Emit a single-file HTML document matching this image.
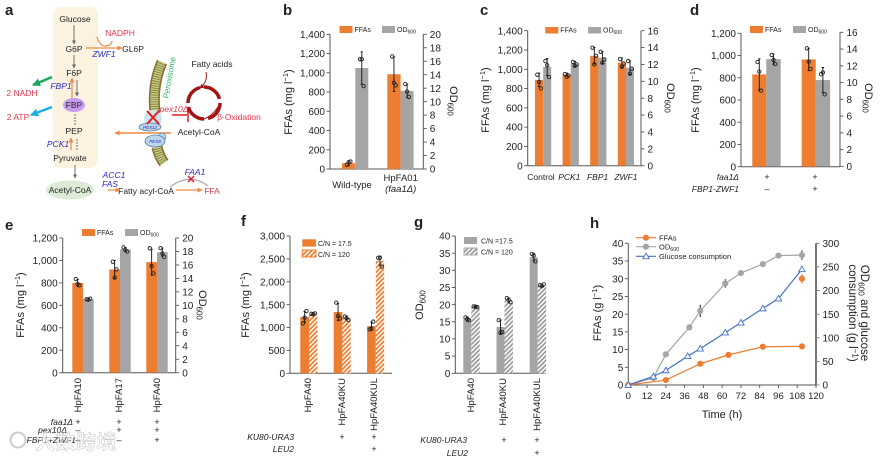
<!DOCTYPE html>
<html><head><meta charset="utf-8"><title>Figure</title>
<style>
html,body{margin:0;padding:0;background:#fff}
svg{display:block;font-family:"Liberation Sans","Noto Sans CJK SC",sans-serif;fill:#222;filter:blur(0.3px)}
text{fill:#222}
.d{font-size:8.5px;text-anchor:middle}
.r{fill:#e0384a}
.b{fill:#2a2ac0;font-style:italic}
</style></head>
<body>
<svg id="fig" xmlns="http://www.w3.org/2000/svg" width="884" height="458" viewBox="0 0 884 458">
<defs>
<pattern id="hatchO" patternUnits="userSpaceOnUse" width="3.2" height="3.2" patternTransform="rotate(45)"><rect width="3.2" height="3.2" fill="#fff"/><rect width="1.7" height="3.2" fill="#ED7D31"/></pattern>
<pattern id="hatchG" patternUnits="userSpaceOnUse" width="3.2" height="3.2" patternTransform="rotate(45)"><rect width="3.2" height="3.2" fill="#fff"/><rect width="1.7" height="3.2" fill="#999"/></pattern>
<marker id="mGray" markerWidth="5" markerHeight="5" refX="3.5" refY="2" orient="auto" markerUnits="userSpaceOnUse"><path d="M0,0L4,2L0,4z" fill="#666"/></marker>
<marker id="mOr" markerWidth="6" markerHeight="6" refX="4.5" refY="2.5" orient="auto" markerUnits="userSpaceOnUse"><path d="M0,0L5,2.5L0,5z" fill="#ED8A45"/></marker>
<marker id="mGreen" markerWidth="9" markerHeight="9" refX="7" refY="4" orient="auto" markerUnits="userSpaceOnUse"><path d="M0,0L8,4L0,8z" fill="#17A85A"/></marker>
<marker id="mBlue" markerWidth="9" markerHeight="9" refX="7" refY="4" orient="auto" markerUnits="userSpaceOnUse"><path d="M0,0L8,4L0,8z" fill="#1AAFE0"/></marker>
<marker id="mRed" markerWidth="6" markerHeight="6" refX="4" refY="2.5" orient="auto" markerUnits="userSpaceOnUse"><path d="M0,0L5,2.5L0,5z" fill="#A31515"/></marker>
</defs>

<g id="panel-a">
<rect x="53" y="7" width="45" height="161" rx="8" fill="#FBF3E0"/>
<text x="5" y="15" font-size="15" font-weight="bold" fill="#111">a</text>
<ellipse cx="74" cy="105" rx="11" ry="7" fill="#C79CEF"/>
<ellipse cx="70" cy="190" rx="24" ry="9.5" fill="#DCEBD5"/>
<g class="d">
<text x="75" y="22">Glucose</text><text x="74" y="52">G6P</text><text x="74" y="76">F6P</text><text x="74" y="108">FBP</text><text x="74" y="134">PEP</text><text x="70" y="161">Pyruvate</text><text x="70" y="193">Acetyl-CoA</text><text x="133" y="52">GL6P</text><text x="146" y="194">Fatty acyl-CoA</text><text x="199" y="135">Acetyl-CoA</text><text x="212" y="67">Fatty acids</text>
</g>
<g class="d">
<text class="r" x="120" y="36">NADPH</text><text class="r" x="22" y="96">2 NADH</text><text class="r" x="18" y="120">2 ATP</text><text class="r" x="212" y="194">FFA</text><text class="r" x="239" y="120">β-Oxidation</text><text class="r" style="font-style:italic" x="174" y="112">pex10Δ</text>
</g>
<g class="d">
<text class="b" x="104" y="57">ZWF1</text><text class="b" x="61" y="89">FBP1</text><text class="b" x="58" y="147">PCK1</text><text class="b" x="114" y="178">ACC1</text><text class="b" x="110" y="187">FAS</text><text class="b" x="195" y="175">FAA1</text>
</g>
<g fill="none">
<g stroke="#666" stroke-width="0.9">
<path d="M74,25V44" marker-end="url(#mGray)"/><path d="M74,55V68" marker-end="url(#mGray)"/><path d="M77,80V96" marker-end="url(#mGray)"/>
<path d="M75,114V126" stroke-dasharray="2 1"/><path d="M77,139V151" stroke-dasharray="2 1"/><path d="M75,165V178" marker-end="url(#mGray)"/>
</g>
<g stroke="#ED8A45" stroke-width="1.2">
<path d="M86,48H122" marker-end="url(#mOr)"/><path d="M97,37Q100,47 106,46T112,41"/><path d="M72,98V78" marker-end="url(#mOr)"/><path d="M71,150V138" marker-end="url(#mOr)"/>
<path d="M108,190H120" marker-end="url(#mOr)"/><path d="M176,190H202" marker-end="url(#mOr)"/><path d="M171,133H115" stroke-width="1.5" marker-end="url(#mOr)"/>
</g>
<path d="M52,77L33,85" stroke="#17A85A" stroke-width="2.5" marker-end="url(#mGreen)"/>
<path d="M52,107L31,115" stroke="#1AAFE0" stroke-width="2.5" marker-end="url(#mBlue)"/>
<path d="M208,186Q190,172 170,187" stroke="#aaa" stroke-width="1.2"/>
<path d="M172,115H187M188,108V122" stroke="#E02020" stroke-width="1.5"/>
<path d="M188,176L194,182M194,176L188,182" stroke="#E02020" stroke-width="1.5"/>
</g>
<g fill="none">
<path d="M162,62Q152,85 155,113" stroke="#8B6B2E" stroke-width="11"/>
<path d="M162,62Q152,85 155,113" stroke="#BFD38A" stroke-width="8" stroke-dasharray="1.5 0.8"/>
<path d="M157,147Q159,156 164,163" stroke="#8B6B2E" stroke-width="11"/>
<path d="M157,147Q159,156 164,163" stroke="#BFD38A" stroke-width="8" stroke-dasharray="1.5 0.8"/>
</g>
<text x="172" y="78" font-size="8" text-anchor="middle" transform="rotate(-80 172 78)" style="fill:#2FB36A">Peroxisome</text>
<circle cx="153" cy="119" r="9" fill="#CFE3EE"/>
<ellipse cx="150" cy="127" rx="11" ry="4" fill="#BCD5E8" stroke="#2F5E8E" stroke-width="0.6"/>
<text x="150" y="129" font-size="4.5" text-anchor="middle" class="b">PEX12</text>
<circle cx="162" cy="137" r="4" fill="#BCD5E8" stroke="#2F5E8E" stroke-width="0.5"/>
<ellipse cx="155" cy="141" rx="10" ry="6" fill="#BCD5E8" stroke="#2F5E8E" stroke-width="0.6"/>
<text x="155" y="143" font-size="4.5" text-anchor="middle" class="b">PEX8</text>
<path d="M147,111L159,124M159,111L147,124" stroke="#E02020" stroke-width="2" fill="none"/>
<g fill="none" stroke="#A31515">
<circle cx="204" cy="103" r="16" stroke-width="3.5" stroke-dasharray="21 4.1"/>
<path d="M206,72Q208,82 200,88" stroke-width="1" marker-end="url(#mRed)"/>
<path d="M204,119Q212,116 218,107" stroke-width="1"/>
</g>
</g>

<g id="panels"></g>
<text x="35" y="449" font-size="20" font-weight="bold" letter-spacing="0.5" stroke="#999" stroke-width="0.5" style="fill:#fff" opacity="0.6">大数跨境</text>
<circle cx="18" cy="440" r="7.5" fill="none" stroke="#ccc" stroke-width="2"/>
</svg>

<script>
// Panel b
const bCategories = ['Wild-type', 'HpFA01'];
const bFFA = [60, 985];
const bOD = [15, 11.6];
const bFFAErr = [25, 180];
const bODErr = [2.4, 1.0];
const bFFAPts = [[45, 70, 78], [1170, 895, 870]];
const bODPts = [[16.3, 16.3, 12.3], [12.6, 11.5, 10.7]];
// Panel c
const cCategories = ['Control', 'PCK1', 'FBP1', 'ZWF1'];
const cFFA = [890, 945, 1140, 1068];
const cOD = [11.7, 12.05, 12.8, 11.6];
const cFFAErr = [70, 15, 85, 50];
const cODErr = [1.0, 0.3, 0.7, 0.8];
const cFFAPts = [[944, 868, 802], [951, 923, 935], [1224, 1051, 1140], [1106, 1027, 1060]];
const cODPts = [[12.4, 11.9, 10.5], [12.3, 11.85, 12], [13.5, 12.2, 12.6], [12.4, 10.9, 11.5]];
// Panel d
const dFFA = [830, 965];
const dOD = [12.8, 10.3];
const dFFAErr = [140, 100];
const dODErr = [0.6, 1.5];
const dFFAPts = [[942, 855, 684], [1065, 945, 879]];
const dODPts = [[13.3, 12.7, 12.2], [11.0, 11.2, 8.6]];
// Panel e
const eCategories = ['HpFA10', 'HpFA17', 'HpFA40'];
const eFFA = [800, 920, 985];
const eOD = [10.9, 18.3, 17.9];
const eFFAErr = [30, 80, 115];
const eODErr = [0.15, 0.3, 0.6];
const eFFAPts = [[835, 790, 778], [989, 847, 920], [1108, 950, 885]];
const eODPts = [[10.9, 10.85, 11], [18.6, 18.2, 18], [18.5, 17.7, 17.2]];
// Panel f
const fCategories = ['HpFA40', 'HpFA40KU', 'HpFA40KUL'];
const fLow = [1230, 1340, 1030];
const fHigh = [1290, 1210, 2460];
const fLowErr = [120, 190, 90];
const fHighErr = [15, 40, 100];
const fLowPts = [[1090, 1215, 1360], [1545, 1250, 1200], [960, 980, 1130]];
const fHighPts = [[1300, 1290, 1310], [1240, 1200, 1165], [2525, 2525, 2330]];
// Panel g
const gCategories = ['HpFA40', 'HpFA40KU', 'HpFA40KUL'];
const gLow = [15.8, 13.5, 33.8];
const gHigh = [19.4, 21.3, 25.6];
const gLowErr = [0.6, 2, 1.1];
const gHighErr = [0.1, 0.6, 0.3];
const gLowPts = [[16.3, 15.8, 15.5], [15.5, 11.8, 12], [34.8, 34.3, 32.6]];
const gHighPts = [[19.5, 19.4, 19.3], [21.9, 21.4, 20.7], [25.7, 25.4, 25.9]];
// Panel h
const hFFATime = [0, 24, 46, 64, 86, 111];
const hFFA = [0, 1.4, 6, 8.5, 10.8, 10.9];
const hODTime = [0, 16, 24, 39, 46, 62, 72, 86, 96, 111];
const hOD = [0, 15, 65, 122, 157, 215, 237, 256, 274, 275];
const hODErr = [0, 1, 2, 4, 13, 9, 3, 2, 3, 10];
const hGluTime = [0, 16, 24, 38, 46, 62, 72, 86, 96, 111];
const hGlu = [0, 18, 31, 61, 77, 111, 132, 162, 183, 245];
const hExtraTime = [111];
const hExtra = [30];
// Tick labels
const ticks1400 = [0, 200, 400, 600, 800, 1000, 1200, 1400];
const ticks1200 = [0, 200, 400, 600, 800, 1000, 1200];
const ticks3000 = [0, 500, 1000, 1500, 2000, 2500, 3000];
const ticks40 = [0, 5, 10, 15, 20, 25, 30, 35, 40];
const ticksOD20 = [0, 2, 4, 6, 8, 10, 12, 14, 16, 18, 20];
const ticksOD16 = [0, 2, 4, 6, 8, 10, 12, 14, 16];
const ticksTime = [0, 12, 24, 36, 48, 60, 72, 84, 96, 108, 120];
const ticksRight300 = [0, 50, 100, 150, 200, 250, 300];

const NS = 'http://www.w3.org/2000/svg';
const root = document.getElementById('panels');
const ORANGE = '#ED7D31', GRAY = '#A5A5A5', AX = '#555';

function mk(parent, tag, attrs, txt) {
  const el = document.createElementNS(NS, tag);
  for (const k in attrs) el.setAttribute(k, attrs[k]);
  if (txt !== undefined) el.textContent = txt;
  parent.appendChild(el);
  return el;
}
function fmt(v) { return v >= 1000 ? Math.floor(v / 1000) + ',' + String(v % 1000).padStart(3, '0') : String(v); }
function linear(d1, r0, r1) { return v => r0 + (r1 - r0) * v / d1; }

function group(name, parent) {
  const g = mk(parent || root, 'g', {});
  
  
  return g;
}
function label(parent, name, x, y, s, o) {
  o = o || {};
  const t = mk(parent, 'text', { x: x, y: y, 'font-size': o.size || 10, 'text-anchor': o.anchor || 'middle' }, s);
  
  
  if (o.italic) t.setAttribute('font-style', 'italic');
  if (o.bold) t.setAttribute('font-weight', 'bold');
  if (o.rot !== undefined) t.setAttribute('transform', 'rotate(' + o.rot + ' ' + x + ' ' + y + ')');
  return t;
}
function od600(parent, name, x, y, o) {
  const t = label(parent, name, x, y, 'OD', o);
  const s = mk(t, 'tspan', { 'font-size': (o.size || 10) * 0.72, dy: (o.size || 10) * 0.22 }, '600');
  
  
  return t;
}
function ffaTitle(parent, name, x, y, unit) {
  const t = label(parent, name, x, y, 'FFAs (' + unit + ' l', { size: 11, rot: -90 });
  const s = mk(t, 'tspan', { 'font-size': 7.5, dy: -4 }, '−1');
  
  
  const c = mk(t, 'tspan', { dy: 4 }, ')');
  
  
}
function vAxis(parent, name, x, y0, yT, max, ticks, side, w, col) {
  const sc = linear(max, y0, yT);
  const g = group(name, parent);
  const ln = mk(g, 'line', { x1: x, x2: x, y1: y0, y2: yT, stroke: col || AX, 'stroke-width': w || 1 });
  
  
  ticks.forEach(v => {
    const y = sc(v);
    const tk = mk(g, 'line', { x1: x, x2: x + side * 3.5, y1: y, y2: y, stroke: col || AX, 'stroke-width': 0.9 });
    
    
    label(g, name + '-tick-label', x + (side < 0 ? -5 : 6.5), y + 3.6, fmt(v), { anchor: side < 0 ? 'end' : 'start' });
  });
  return sc;
}
function drawBars(g, series, sc, xOf, bw, fill, errs, pts, nm) {
  series.forEach((v, i) => {
    const x = xOf(i);
    const r = mk(g, 'rect', { x: x, y: sc(v), width: bw, height: sc(0) - sc(v), fill: fill });
    
    
    const cx = x + bw / 2;
    const e = mk(g, 'path', { d: 'M' + (cx - 1.2) + ',' + sc(v + errs[i]) + 'h2.4M' + cx + ',' + sc(v + errs[i]) + 'V' + sc(v - errs[i]) + 'M' + (cx - 1.2) + ',' + sc(v - errs[i]) + 'h2.4', stroke: '#111', 'stroke-width': 0.9, fill: 'none' });
    
    
    pts[i].forEach((p, j) => {
      const c = mk(g, 'circle', { cx: cx + (j - 1) * 1.8, cy: sc(p), r: 1.7, fill: 'none', stroke: '#222', 'stroke-width': 0.9 });
      
      
    });
  });
}
function baseline(g, name, x0, x1, y) {
  const l = mk(g, 'line', { x1: x0, x2: x1, y1: y, y2: y, stroke: AX, 'stroke-width': 1 });
  
  
}
function legendSwatch(g, name, x, y, w, h, fill, stroke) {
  const r = mk(g, 'rect', { x: x, y: y, width: w, height: h, fill: fill });
  if (stroke) r.setAttribute('stroke', stroke);
  
  
}
function stdLegend(g, ox1, ox2, y, h) {
  const lg = group('legend', g);
  legendSwatch(lg, 'legend-swatch-ffas', ox1, y, 13, h, ORANGE);
  label(lg, 'legend-label-ffas', ox1 + 15, y + h - 0.8, 'FFAs', { size: 7, anchor: 'start' });
  legendSwatch(lg, 'legend-swatch-od600', ox2, y, 13, h, GRAY);
  od600(lg, 'legend-label-od600', ox2 + 15, y + h - 0.8, { size: 7, anchor: 'start' });
}
function rowLabels(g, name, rows) {
  rows.forEach(r => {
    label(g, name + '-row-label', r.x, r.y, r.text, { size: 8.5, anchor: 'end', italic: true });
    r.marks.forEach(m => label(g, name + '-row-mark', m[0], r.y, m[1], { size: 9 }));
  });
}
function barX(first, pitch, offset) { return i => first + pitch * i + offset; }

// ---- b
(function () {
  const g = group('panel-b');
  label(g, 'panel-label-b', 283, 15, 'b', { size: 15, bold: true, anchor: 'start' });
  stdLegend(g, 339.5, 382, 26, 7);
  const y0 = 169, yT = 34.3;
  const sL = vAxis(g, 'left-axis', 330, y0, yT, 1400, ticks1400, -1);
  const sR = vAxis(g, 'right-axis', 423.3, y0, yT, 20, ticksOD20, 1);
  baseline(g, 'x-axis', 330, 423.3, y0);
  drawBars(g, bFFA, sL, barX(342, 45.3, 0), 13.3, ORANGE, bFFAErr, bFFAPts, 'ffas');
  drawBars(g, bOD, sR, barX(342, 45.3, 13.3), 13, GRAY, bODErr, bODPts, 'od600');
  ffaTitle(g, 'y-axis-title', 292, 102, 'mg');
  od600(g, 'right-axis-title', 450, 101, { size: 11, rot: 90 });
  label(g, 'category-label', 352, 188, bCategories[0], { size: 9.5 });
  label(g, 'category-label', 400.7, 181, bCategories[1], { size: 9.5 });
  label(g, 'category-sublabel', 400.7, 192, '(faa1Δ)', { size: 9.5, italic: true });
})();
// ---- c
(function () {
  const g = group('panel-c');
  label(g, 'panel-label-c', 480, 15, 'c', { size: 15, bold: true, anchor: 'start' });
  stdLegend(g, 545.3, 588, 27, 6.5);
  const y0 = 165.7, yT = 30.7;
  const sL = vAxis(g, 'left-axis', 527.7, y0, yT, 1400, ticks1400, -1);
  const sR = vAxis(g, 'right-axis', 641, y0, yT, 16, ticksOD16, 1);
  baseline(g, 'x-axis', 527.7, 641, y0);
  drawBars(g, cFFA, sL, barX(535, 27.6, 0), 8.2, ORANGE, cFFAErr, cFFAPts, 'ffas');
  drawBars(g, cOD, sR, barX(535, 27.6, 8.2), 8, GRAY, cODErr, cODPts, 'od600');
  ffaTitle(g, 'y-axis-title', 489, 100, 'mg');
  od600(g, 'right-axis-title', 667, 98, { size: 11, rot: 90 });
  cCategories.forEach((c, i) => label(g, 'category-label', 541 + 28.3 * i, 180, c, { size: 8.5, italic: i > 0 }));
})();
// ---- d
(function () {
  const g = group('panel-d');
  label(g, 'panel-label-d', 690, 15, 'd', { size: 15, bold: true, anchor: 'start' });
  stdLegend(g, 750, 793, 26, 7);
  const y0 = 166.7, yT = 33.3;
  const sL = vAxis(g, 'left-axis', 741, y0, yT, 1200, ticks1200, -1);
  const sR = vAxis(g, 'right-axis', 840, y0 - 0.3, yT - 1, 16, ticksOD16, 1);
  baseline(g, 'x-axis', 741, 840, y0);
  drawBars(g, dFFA, sL, barX(752.3, 49.4, 0), 14, ORANGE, dFFAErr, dFFAPts, 'ffas');
  drawBars(g, dOD, sR, barX(752.3, 49.4, 14), 14.4, GRAY, dODErr, dODPts, 'od600');
  ffaTitle(g, 'y-axis-title', 699, 100, 'mg');
  od600(g, 'right-axis-title', 865, 98, { size: 11, rot: 90 });
  rowLabels(g, 'genotype', [
    { x: 739, y: 180, text: 'faa1Δ', marks: [[767, '+'], [815, '+']] },
    { x: 739, y: 192, text: 'FBP1-ZWF1', marks: [[767, '–'], [815, '+']] }
  ]);
})();
// ---- e
(function () {
  const g = group('panel-e');
  label(g, 'panel-label-e', 5, 230, 'e', { size: 15, bold: true, anchor: 'start' });
  stdLegend(g, 82, 125, 229, 7);
  const y0 = 372.7, yT = 238;
  const sL = vAxis(g, 'left-axis', 62.7, y0, yT, 1200, ticks1200, -1);
  const sR = vAxis(g, 'right-axis', 175.7, y0, yT, 20, ticksOD20, 1);
  baseline(g, 'x-axis', 62.7, 175.7, y0);
  drawBars(g, eFFA, sL, barX(72.3, 37, 0), 10.7, ORANGE, eFFAErr, eFFAPts, 'ffas');
  drawBars(g, eOD, sR, barX(72.3, 37, 10.7), 10.7, GRAY, eODErr, eODPts, 'od600');
  ffaTitle(g, 'y-axis-title', 24, 305, 'mg');
  od600(g, 'right-axis-title', 199, 305, { size: 11, rot: 90 });
  [81, 122, 160].forEach((x, i) => label(g, 'category-label', x, 378, eCategories[i], { size: 9.5, anchor: 'end', rot: -90 }));
  rowLabels(g, 'genotype', [
    { x: 73, y: 425, text: 'faa1Δ', marks: [[78, '+'], [119, '+'], [157, '+']] },
    { x: 67, y: 433, text: 'pex10Δ', marks: [[78, '–'], [119, '+'], [157, '+']] },
    { x: 76, y: 443, text: 'FBP1+ZWF1', marks: [[78, '–'], [119, '–'], [157, '+']] }
  ]);
})();
// ---- f
(function () {
  const g = group('panel-f');
  label(g, 'panel-label-f', 241, 226, 'f', { size: 15, bold: true, anchor: 'start' });
  const lg = group('legend', g);
  legendSwatch(lg, 'legend-swatch-low-cn', 302.3, 239.3, 13.7, 7.3, ORANGE);
  label(lg, 'legend-label-low-cn', 318, 246, 'C/N = 17.5', { size: 7, anchor: 'start' });
  legendSwatch(lg, 'legend-swatch-high-cn', 302.3, 250, 13.7, 7, 'url(#hatchO)', ORANGE);
  label(lg, 'legend-label-high-cn', 318, 257, 'C/N = 120', { size: 7, anchor: 'start' });
  const y0 = 373.3, yT = 236;
  const sL = vAxis(g, 'left-axis', 290, y0, yT, 3000, ticks3000, -1);
  baseline(g, 'x-axis', 290, 392, y0);
  drawBars(g, fLow, sL, barX(300.3, 33.4, 0), 8.7, ORANGE, fLowErr, fLowPts, 'low-cn');
  drawBars(g, fHigh, sL, barX(300.3, 33.4, 8.7), 8.4, 'url(#hatchO)', fHighErr, fHighPts, 'high-cn');
  ffaTitle(g, 'y-axis-title', 249, 305, 'mg');
  [311, 345, 377].forEach((x, i) => label(g, 'category-label', x, 378, fCategories[i], { size: 9.5, anchor: 'end', rot: -90 }));
  rowLabels(g, 'genotype', [
    { x: 294, y: 440, text: 'KU80-URA3', marks: [[342, '+'], [374, '+']] },
    { x: 294, y: 452, text: 'LEU2', marks: [[374, '+']] }
  ]);
})();
// ---- g
(function () {
  const g = group('panel-g');
  label(g, 'panel-label-g', 414, 227, 'g', { size: 15, bold: true, anchor: 'start' });
  const lg = group('legend', g);
  legendSwatch(lg, 'legend-swatch-low-cn', 464, 237, 13, 7, GRAY);
  label(lg, 'legend-label-low-cn', 481, 243.5, 'C/N =17.5', { size: 7, anchor: 'start' });
  legendSwatch(lg, 'legend-swatch-high-cn', 464, 248, 13, 7, 'url(#hatchG)', '#aaa');
  label(lg, 'legend-label-high-cn', 481, 254.5, 'C/N = 120', { size: 7, anchor: 'start' });
  const y0 = 373.3, yT = 236;
  const sL = vAxis(g, 'left-axis', 455.3, y0, yT, 40, ticks40, -1);
  baseline(g, 'x-axis', 455.3, 546, y0);
  drawBars(g, gLow, sL, barX(463.3, 33.2, 0), 8, GRAY, gLowErr, gLowPts, 'low-cn');
  drawBars(g, gHigh, sL, barX(463.3, 33.2, 8), 8.4, 'url(#hatchG)', gHighErr, gHighPts, 'high-cn');
  od600(g, 'y-axis-title', 423, 305, { size: 11, rot: -90 });
  [474, 506, 540].forEach((x, i) => label(g, 'category-label', x, 378, gCategories[i], { size: 9.5, anchor: 'end', rot: -90 }));
  rowLabels(g, 'genotype', [
    { x: 467, y: 443, text: 'KU80-URA3', marks: [[504, '+'], [537, '+']] },
    { x: 468, y: 456, text: 'LEU2', marks: [[537, '+']] }
  ]);
})();
// ---- h
(function () {
  const g = group('panel-h');
  label(g, 'panel-label-h', 590, 228, 'h', { size: 15, bold: true, anchor: 'start' });
  const y0 = 385, yT = 243.3, x0 = 628.3, x1 = 816;
  const sL = vAxis(g, 'left-axis', x0, y0, yT, 40, ticks40, -1);
  const sR = vAxis(g, 'right-axis', x1, y0, yT, 300, ticksRight300, 1, 2, '#777');
  const sX = linear(120, x0, x1);
  const xa = group('x-axis', g);
  baseline(xa, 'x-axis-line', x0, x1, y0);
  ticksTime.forEach(t => {
    const tk = mk(xa, 'line', { x1: sX(t), x2: sX(t), y1: y0, y2: y0 + 3, stroke: AX, 'stroke-width': 0.9 });
    
    
    label(xa, 'x-axis-tick-label', sX(t), y0 + 14, String(t), { size: 9.5 });
  });
  label(g, 'x-axis-title', 722, 418, 'Time (h)', { size: 11 });
  ffaTitle(g, 'y-axis-title', 601, 313, 'g');
  const rt = od600(g, 'right-axis-title-line-1', 861, 313, { size: 11.5, rot: 90 });
  const rest = mk(rt, 'tspan', { dy: -2.5 }, ' and glucose');
  
  
  const t2 = label(g, 'right-axis-title-line-2', 849, 313, 'consumption (g l', { size: 11.5, rot: 90 });
  const t2e = mk(t2, 'tspan', { 'font-size': 8, dy: -3.5 }, '−1');
  
  
  const t2c = mk(t2, 'tspan', { dy: 3.5 }, ')');
  
  

  function series(name, xs, ys, sc, col, w) {
    const sg = group(name + '-series', g);
    const pl = mk(sg, 'polyline', { points: xs.map((t, i) => sX(t) + ',' + sc(ys[i])).join(' '), fill: 'none', stroke: col, 'stroke-width': w || 1.2 });
    
    
    return sg;
  }
  const gray = series('od600', hODTime, hOD, sR, '#A5A5A5');
  hODTime.forEach((t, i) => {
    const er = mk(gray, 'line', { x1: sX(t), x2: sX(t), y1: sR(hOD[i] + hODErr[i]), y2: sR(hOD[i] - hODErr[i]), stroke: '#111', 'stroke-width': 1 });
    
    
    const c = mk(gray, 'circle', { cx: sX(t), cy: sR(hOD[i]), r: 3.1, fill: '#A5A5A5' });
    
    
  });
  const or = series('ffas', hFFATime, hFFA, sL, ORANGE);
  hFFATime.forEach((t, i) => {
    const c = mk(or, 'circle', { cx: sX(t), cy: sL(hFFA[i]), r: 3.1, fill: ORANGE });
    
    
  });
  hExtraTime.forEach((t, i) => {
    const ex = mk(or, 'line', { x1: sX(t), x2: sX(t), y1: sL(hExtra[i]) - 4.5, y2: sL(hExtra[i]) + 4.5, stroke: '#C0392B', 'stroke-width': 1 });
    
    
    const c = mk(or, 'circle', { cx: sX(t), cy: sL(hExtra[i]), r: 3.1, fill: ORANGE });
    
    
  });
  const bl = series('glucose', hGluTime, hGlu, sR, '#4472C4');
  function tri(parent, x, y) {
    const p = mk(parent, 'polygon', { points: x + ',' + (y - 3.2) + ' ' + (x + 3.2) + ',' + (y + 2.4) + ' ' + (x - 3.2) + ',' + (y + 2.4), fill: '#fff', stroke: '#4472C4', 'stroke-width': 0.9 });
    
    
  }
  hGluTime.forEach((t, i) => tri(bl, sX(t), sR(hGlu[i])));

  const lg = group('legend', g);
  const entries = [['ffas', 237.7, ORANGE], ['od600', 246.7, '#A5A5A5'], ['glucose', 256.3, '#4472C4']];
  entries.forEach(en => {
    const l = mk(lg, 'line', { x1: 636, x2: 656, y1: en[1], y2: en[1], stroke: en[2], 'stroke-width': 1.2 });
    
    
  });
  [0, 1].forEach(i => {
    const c = mk(lg, 'circle', { cx: 646, cy: entries[i][1], r: 3.1, fill: entries[i][2] });
    
    
  });
  tri(lg, 646, 256.3);
  label(lg, 'legend-label-ffas', 659, 240.3, 'FFAs', { size: 7.5, anchor: 'start' });
  od600(lg, 'legend-label-od600', 659, 249.3, { size: 7.5, anchor: 'start' });
  label(lg, 'legend-label-glucose', 659, 259, 'Glucose consumption', { size: 7.5, anchor: 'start' });
})();
</script>
</body></html>
